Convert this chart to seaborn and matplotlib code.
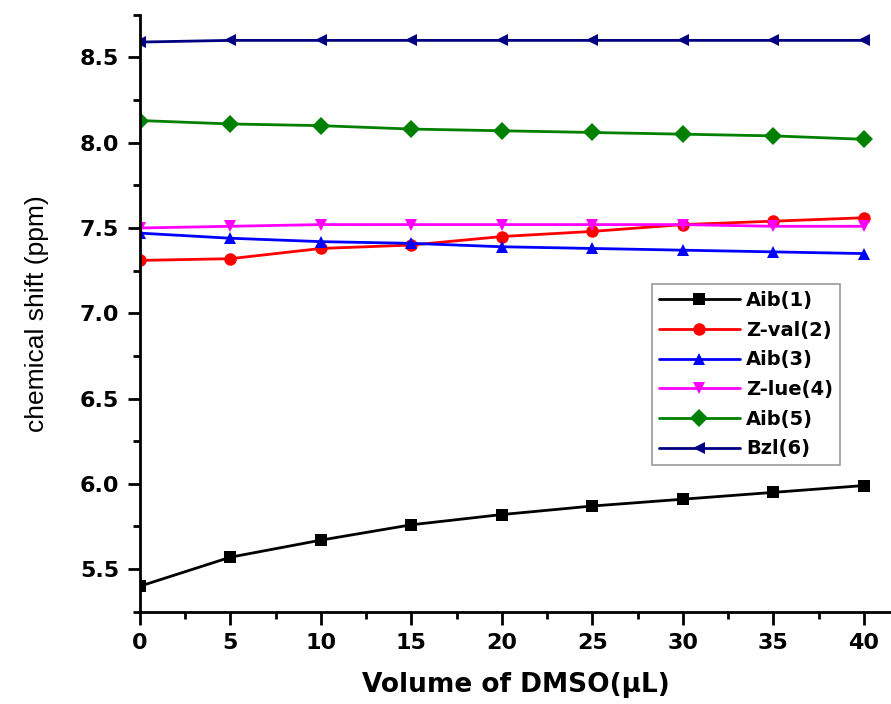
import pandas as pd
import seaborn as sns
import matplotlib.pyplot as plt
from matplotlib.ticker import MultipleLocator

# Data
volume = [0, 5, 10, 15, 20, 25, 30, 35, 40]
aib1 = [5.40, 5.57, 5.67, 5.76, 5.82, 5.87, 5.91, 5.95, 5.99]
zval2 = [7.31, 7.32, 7.38, 7.40, 7.45, 7.48, 7.52, 7.54, 7.56]
aib3 = [7.47, 7.44, 7.42, 7.41, 7.39, 7.38, 7.37, 7.36, 7.35]
zlue4 = [7.50, 7.51, 7.52, 7.52, 7.52, 7.52, 7.52, 7.51, 7.51]
aib5 = [8.13, 8.11, 8.10, 8.08, 8.07, 8.06, 8.05, 8.04, 8.02]
bzl6 = [8.59, 8.60, 8.60, 8.60, 8.60, 8.60, 8.60, 8.60, 8.60]

names = ['Aib(1)', 'Z-val(2)', 'Aib(3)', 'Z-lue(4)', 'Aib(5)', 'Bzl(6)']
series = [aib1, zval2, aib3, zlue4, aib5, bzl6]
colors = ['black', '#ff0000', '#0000ff', '#ff00ff', '#008000', '#000080']
marks = ['s', 'o', '^', 'v', 'D', '<']

# long format for seaborn
rows = []
for name, vals in zip(names, series):
    for v, s in zip(volume, vals):
        rows.append({'Volume': v, 'Shift': s, 'Residue': name})
df = pd.DataFrame(rows)

sns.set_style('ticks', {'axes.edgecolor': 'black', 'xtick.color': 'black',
                        'ytick.color': 'black', 'text.color': 'black',
                        'axes.labelcolor': 'black'})
plt.rcParams['font.family'] = ['DejaVu Sans']

fig = plt.figure(figsize=(8.91, 7.04), dpi=100)
ax = fig.add_axes([0.157, 0.131, 0.843, 0.848])

sns.lineplot(data=df, x='Volume', y='Shift', hue='Residue', style='Residue',
             hue_order=names, style_order=names,
             palette=dict(zip(names, colors)),
             markers=dict(zip(names, marks)), dashes=False,
             markersize=9, markeredgewidth=0, linewidth=2, ax=ax)

ax.set_xlim(0, 41.5)
ax.set_ylim(5.25, 8.75)
ax.xaxis.set_minor_locator(MultipleLocator(2.5))
ax.yaxis.set_minor_locator(MultipleLocator(0.25))
ax.tick_params(which='major', length=9, width=2, labelsize=16, direction='out', pad=6)
ax.tick_params(which='minor', length=5, width=2, direction='out')
ax.set_xticks(volume)
ax.set_xticklabels(['%d' % t for t in volume], fontweight='bold')
yt = [5.5, 6.0, 6.5, 7.0, 7.5, 8.0, 8.5]
ax.set_yticks(yt)
ax.set_yticklabels(['%.1f' % t for t in yt], fontweight='bold')

sns.despine(ax=ax)
ax.spines['left'].set_linewidth(2)
ax.spines['bottom'].set_linewidth(2)

ax.set_xlabel('Volume of DMSO(\u03bcL)', fontsize=19, fontweight='bold', labelpad=14)
ax.set_ylabel('chemical shift (ppm)', fontsize=19, family='Liberation Sans', labelpad=22)

leg = ax.legend(loc='upper right', bbox_to_anchor=(0.945, 0.565),
                prop={'weight': 'bold', 'size': 14}, frameon=True,
                fancybox=False, edgecolor='gray', handlelength=4.2,
                handletextpad=0.3, labelspacing=0.55, borderpad=0.35)
leg.get_frame().set_linewidth(1.2)

plt.savefig('out.png', dpi=100)
